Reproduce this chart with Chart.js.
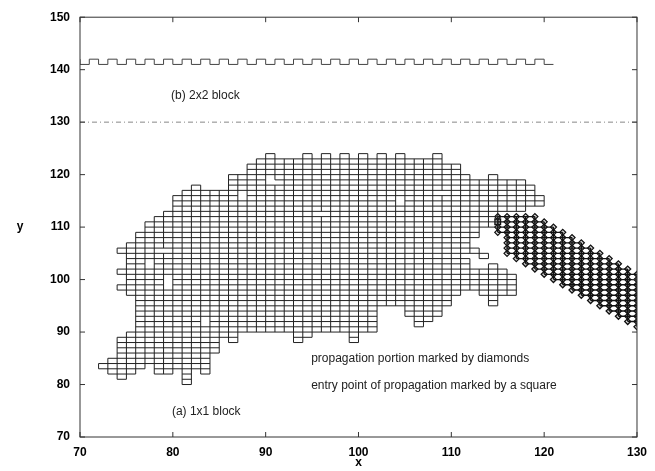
<!DOCTYPE html>
<html>
<head>
<meta charset="utf-8">
<script src="https://cdn.jsdelivr.net/npm/chart.js@4/dist/chart.umd.min.js"></script>
<style>
  html, body { margin: 0; padding: 0; background: #fff; }
  #wrap { width: 655px; height: 471px; }
</style>
</head>
<body>
<div id="wrap"><canvas id="chart"></canvas></div>
<script>
const X_TICKS = [70, 80, 90, 100, 110, 120, 130];
const Y_TICKS = [70, 80, 90, 100, 110, 120, 130, 140, 150];

// (a) 1x1 block: cells per column, as [fromY, toY) runs
const blockCols = [72, 73, 74, 75, 76, 77, 78, 79, 80, 81, 82, 83, 84, 85, 86, 87, 88, 89, 90,
  91, 92, 93, 94, 95, 96, 97, 98, 99, 100, 101, 102, 103, 104, 105, 106, 107, 108, 109, 110,
  111, 112, 113, 114, 115, 116, 117, 118, 119];
const blockRuns = [
  [[83, 84]],
  [[82, 85]],
  [[81, 82], [83, 89], [98, 99], [101, 102], [105, 106]],
  [[82, 84], [85, 90], [97, 107]],
  [[83, 109]],
  [[84, 111]],
  [[82, 112]],
  [[82, 113]],
  [[83, 116]],
  [[80, 117]],
  [[83, 118]],
  [[82, 117]],
  [[86, 117]],
  [[89, 117]],
  [[88, 120]],
  [[90, 120]],
  [[90, 122]],
  [[90, 123]],
  [[90, 124]],
  [[90, 123]],
  [[90, 123]],
  [[88, 123]],
  [[89, 124]],
  [[90, 123]],
  [[90, 124]],
  [[90, 123]],
  [[90, 124]],
  [[88, 123]],
  [[90, 124]],
  [[90, 123]],
  [[95, 124]],
  [[95, 123]],
  [[95, 124]],
  [[93, 123]],
  [[91, 123]],
  [[92, 123]],
  [[93, 124]],
  [[95, 122]],
  [[97, 122]],
  [[98, 104], [105, 120]],
  [[98, 102], [105, 106], [108, 119]],
  [[97, 102], [104, 105], [110, 119]],
  [[95, 103], [110, 120]],
  [[97, 102], [113, 119]],
  [[97, 101], [113, 119]],
  [[113, 119]],
  [[114, 118]],
  [[114, 116]]
];
const holeCells = [[77, 102], [77, 103], [78, 105], [79, 105], [79, 98], [79, 99], [79, 100],
  [83, 91], [83, 92], [87, 115], [87, 116], [90, 118], [90, 119], [91, 118],
  [95, 112], [96, 112], [104, 114], [104, 115], [108, 116], [109, 116]];

// (b) 2x2 block outline
const stripX = [70, 71, 72, 73, 74, 75, 76, 77, 78, 79, 80, 81, 82, 83, 84, 85, 86, 87, 88, 89,
  90, 91, 92, 93, 94, 95, 96, 97, 98, 99, 100, 101, 102, 103, 104, 105, 106, 107, 108, 109,
  110, 111, 112, 113, 114, 115, 116, 117, 118, 119, 120, 121];
const stripY = [142, 141, 142, 141, 142, 141, 142, 141, 142, 141, 142, 141, 142, 141, 142, 141,
  142, 141, 142, 141, 142, 141, 142, 141, 142, 141, 142, 141, 142, 141, 142, 141, 142, 141,
  142, 141, 142, 141, 142, 141, 142, 141, 142, 141, 142, 141, 142, 141, 142, 141, 142, 141];

const dividerY = 130;

// propagation portion (diamonds), per column
const diamondX = [115, 116, 117, 118, 119, 120, 121, 122, 123, 124, 125, 126, 127, 128, 129, 130];
const diamondTop = [112, 112, 112, 112, 112, 111, 110, 109, 108, 107, 106, 105, 104, 103, 102, 101];
const diamondBottom = [109, 105, 104, 103, 102, 101, 100, 99, 98, 97, 96, 95, 94, 93, 92, 91];
const entryPoint = { x: 115, y: 111 };

const notes = [
  { text: "(b) 2x2 block", x: 79.8, y: 135 },
  { text: "propagation portion marked by diamonds", x: 94.9, y: 85 },
  { text: "entry point of propagation marked by a square", x: 94.9, y: 79.8 },
  { text: "(a) 1x1 block", x: 79.9, y: 74.8 }
];

const FONT = '"Liberation Sans", Arial, Helvetica, sans-serif';
const INK = "#222";

// outline of the 1x1 cells, merged into runs, broken by null points
const cells = new Set();
const key = (x, y) => x + "," + y;
blockCols.forEach((x, i) => {
  blockRuns[i].forEach(([y0, y1]) => {
    for (let y = y0; y < y1; y++) cells.add(key(x, y));
  });
});
holeCells.forEach(([x, y]) => cells.delete(key(x, y)));
const has = (x, y) => cells.has(key(x, y));

const cellEdges = [];
for (let y = 79; y <= 125; y++) {
  let start = null;
  for (let x = 71; x <= 121; x++) {
    const on = has(x, y) || has(x, y - 1);
    if (on && start === null) start = x;
    if (!on && start !== null) {
      cellEdges.push({ x: start, y }, { x, y }, { x, y: null });
      start = null;
    }
  }
}
for (let x = 71; x <= 121; x++) {
  let start = null;
  for (let y = 79; y <= 125; y++) {
    const on = has(x, y) || has(x - 1, y);
    if (on && start === null) start = y;
    if (!on && start !== null) {
      cellEdges.push({ x, y: start }, { x, y }, { x, y: null });
      start = null;
    }
  }
}

// grid joining the diamonds
const diamondGrid = [];
const diamondPts = [];
diamondX.forEach((x, i) => {
  diamondGrid.push({ x, y: diamondBottom[i] }, { x, y: diamondTop[i] }, { x, y: null });
  for (let y = diamondBottom[i]; y <= diamondTop[i]; y++) {
    if (!(x === entryPoint.x && y === entryPoint.y)) diamondPts.push({ x, y });
  }
});
for (let y = 91; y <= 112; y++) {
  let start = null;
  diamondX.forEach((x, i) => {
    const on = y >= diamondBottom[i] && y <= diamondTop[i];
    if (on && start === null) start = x;
    if ((!on || i === diamondX.length - 1) && start !== null) {
      const end = on ? x : diamondX[i - 1];
      if (end > start) diamondGrid.push({ x: start, y }, { x: end, y }, { x: end, y: null });
      start = null;
    }
  });
}

const framePlugin = {
  id: "frame",
  afterDraw(chart) {
    const { ctx, chartArea: a, scales: { x, y } } = chart;
    ctx.save();
    ctx.strokeStyle = "#333";
    ctx.lineWidth = 1;
    ctx.strokeRect(a.left, a.top, a.right - a.left, a.bottom - a.top);
    ctx.beginPath();
    X_TICKS.forEach(v => {
      const px = x.getPixelForValue(v);
      ctx.moveTo(px, a.bottom); ctx.lineTo(px, a.bottom - 5);
      ctx.moveTo(px, a.top); ctx.lineTo(px, a.top + 5);
    });
    Y_TICKS.forEach(v => {
      const py = y.getPixelForValue(v);
      ctx.moveTo(a.left, py); ctx.lineTo(a.left + 5, py);
      ctx.moveTo(a.right, py); ctx.lineTo(a.right - 5, py);
    });
    ctx.stroke();

    ctx.fillStyle = INK;
    ctx.font = "12px " + FONT;
    ctx.textBaseline = "middle";
    ctx.textAlign = "left";
    notes.forEach(n => ctx.fillText(n.text, x.getPixelForValue(n.x), y.getPixelForValue(n.y)));
    ctx.textAlign = "center";
    ctx.fillStyle = "#000";
    ctx.font = "bold 12px " + FONT;
    ctx.fillText("y", a.left - 60, (a.top + a.bottom) / 2);
    ctx.restore();
  }
};

new Chart(document.getElementById("chart"), {
  type: "scatter",
  data: {
    datasets: [
      {
        data: cellEdges,
        showLine: true,
        borderColor: INK,
        borderWidth: 1,
        pointRadius: 0
      },
      {
        data: diamondGrid,
        showLine: true,
        borderColor: "#111",
        borderWidth: 1.4,
        pointRadius: 0
      },
      {
        data: diamondPts,
        pointStyle: "rectRot",
        pointRadius: 3,
        borderColor: "#111",
        borderWidth: 1.3,
        backgroundColor: "#ddd"
      },
      {
        data: [entryPoint],
        pointStyle: "rect",
        pointRadius: 4,
        borderColor: "#111",
        borderWidth: 1.3,
        backgroundColor: "#999"
      },
      {
        data: stripX.map((x, i) => ({ x, y: stripY[i] })),
        showLine: true,
        stepped: "after",
        borderColor: "#444",
        borderWidth: 1,
        pointRadius: 0
      },
      {
        data: [{ x: 70, y: dividerY }, { x: 130, y: dividerY }],
        showLine: true,
        borderColor: "#888",
        borderWidth: 1,
        borderDash: [5, 3, 1, 3],
        pointRadius: 0
      }
    ]
  },
  options: {
    animation: false,
    responsive: true,
    maintainAspectRatio: false,
    layout: { padding: { top: 13, right: 13, left: 0, bottom: 0 } },
    scales: {
      x: {
        type: "linear",
        min: 70,
        max: 130,
        grid: { display: false, drawTicks: false },
        border: { display: false },
        ticks: { stepSize: 10, padding: 8, color: "#000", font: { size: 12, family: FONT, weight: "bold" } },
        title: { display: true, text: "x", color: "#000", font: { size: 12, family: FONT, weight: "bold" }, padding: { top: 0, bottom: 1 } },
        afterFit: s => { s.height = 34; }
      },
      y: {
        type: "linear",
        min: 70,
        max: 150,
        grid: { display: false, drawTicks: false },
        border: { display: false },
        ticks: { stepSize: 10, padding: 10, color: "#000", font: { size: 12, family: FONT, weight: "bold" } },
        afterFit: s => { s.width = 80; }
      }
    },
    plugins: {
      legend: { display: false },
      tooltip: { enabled: false }
    }
  },
  plugins: [framePlugin]
});
</script>
</body>
</html>
